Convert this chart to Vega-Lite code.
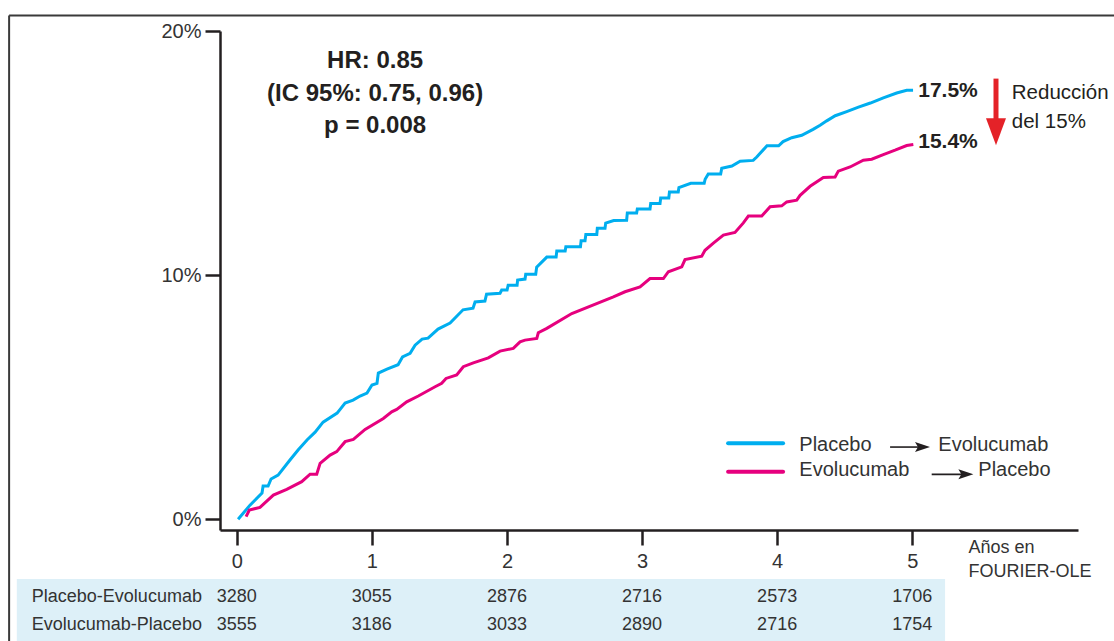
{
  "$schema": "https://vega.github.io/schema/vega-lite/v6.json",
  "width": 858,
  "height": 499,
  "autosize": {"type": "none"},
  "padding": {"left": 220, "top": 31, "right": 36, "bottom": 111},
  "background": "white",
  "config": {
    "view": {"stroke": null},
    "font": "Liberation Sans",
    "axis": {
      "grid": false,
      "domainColor": "#231f20",
      "domainWidth": 2.5,
      "tickColor": "#231f20",
      "tickWidth": 2.5,
      "tickSize": 15,
      "labelFont": "Liberation Sans",
      "labelFontSize": 20,
      "labelColor": "#333333"
    }
  },
  "datasets": {
    "km": [
      {"series": "Placebo-Evolucumab", "t": 0.01, "pct": 0.0},
      {"series": "Placebo-Evolucumab", "t": 0.098, "pct": 0.58},
      {"series": "Placebo-Evolucumab", "t": 0.187, "pct": 1.08},
      {"series": "Placebo-Evolucumab", "t": 0.195, "pct": 1.36},
      {"series": "Placebo-Evolucumab", "t": 0.232, "pct": 1.36},
      {"series": "Placebo-Evolucumab", "t": 0.254, "pct": 1.65},
      {"series": "Placebo-Evolucumab", "t": 0.306, "pct": 1.81},
      {"series": "Placebo-Evolucumab", "t": 0.394, "pct": 2.43},
      {"series": "Placebo-Evolucumab", "t": 0.454, "pct": 2.84},
      {"series": "Placebo-Evolucumab", "t": 0.52, "pct": 3.25},
      {"series": "Placebo-Evolucumab", "t": 0.58, "pct": 3.57},
      {"series": "Placebo-Evolucumab", "t": 0.639, "pct": 3.98},
      {"series": "Placebo-Evolucumab", "t": 0.743, "pct": 4.35},
      {"series": "Placebo-Evolucumab", "t": 0.802, "pct": 4.76},
      {"series": "Placebo-Evolucumab", "t": 0.861, "pct": 4.88},
      {"series": "Placebo-Evolucumab", "t": 0.913, "pct": 5.05},
      {"series": "Placebo-Evolucumab", "t": 0.964, "pct": 5.17},
      {"series": "Placebo-Evolucumab", "t": 1.001, "pct": 5.5},
      {"series": "Placebo-Evolucumab", "t": 1.038, "pct": 5.57},
      {"series": "Placebo-Evolucumab", "t": 1.048, "pct": 5.99},
      {"series": "Placebo-Evolucumab", "t": 1.112, "pct": 6.15},
      {"series": "Placebo-Evolucumab", "t": 1.194, "pct": 6.33},
      {"series": "Placebo-Evolucumab", "t": 1.227, "pct": 6.65},
      {"series": "Placebo-Evolucumab", "t": 1.283, "pct": 6.8},
      {"series": "Placebo-Evolucumab", "t": 1.32, "pct": 7.13},
      {"series": "Placebo-Evolucumab", "t": 1.372, "pct": 7.38},
      {"series": "Placebo-Evolucumab", "t": 1.416, "pct": 7.42},
      {"series": "Placebo-Evolucumab", "t": 1.49, "pct": 7.79},
      {"series": "Placebo-Evolucumab", "t": 1.579, "pct": 8.04},
      {"series": "Placebo-Evolucumab", "t": 1.675, "pct": 8.58},
      {"series": "Placebo-Evolucumab", "t": 1.749, "pct": 8.65},
      {"series": "Placebo-Evolucumab", "t": 1.764, "pct": 8.9},
      {"series": "Placebo-Evolucumab", "t": 1.837, "pct": 8.94},
      {"series": "Placebo-Evolucumab", "t": 1.849, "pct": 9.22},
      {"series": "Placebo-Evolucumab", "t": 1.949, "pct": 9.26},
      {"series": "Placebo-Evolucumab", "t": 1.961, "pct": 9.39},
      {"series": "Placebo-Evolucumab", "t": 2.001, "pct": 9.39},
      {"series": "Placebo-Evolucumab", "t": 2.009, "pct": 9.59},
      {"series": "Placebo-Evolucumab", "t": 2.075, "pct": 9.59},
      {"series": "Placebo-Evolucumab", "t": 2.079, "pct": 9.8},
      {"series": "Placebo-Evolucumab", "t": 2.134, "pct": 9.84},
      {"series": "Placebo-Evolucumab", "t": 2.139, "pct": 10.04},
      {"series": "Placebo-Evolucumab", "t": 2.213, "pct": 10.04},
      {"series": "Placebo-Evolucumab", "t": 2.22, "pct": 10.33},
      {"series": "Placebo-Evolucumab", "t": 2.295, "pct": 10.74},
      {"series": "Placebo-Evolucumab", "t": 2.364, "pct": 10.74},
      {"series": "Placebo-Evolucumab", "t": 2.369, "pct": 10.99},
      {"series": "Placebo-Evolucumab", "t": 2.431, "pct": 10.99},
      {"series": "Placebo-Evolucumab", "t": 2.436, "pct": 11.16},
      {"series": "Placebo-Evolucumab", "t": 2.544, "pct": 11.16},
      {"series": "Placebo-Evolucumab", "t": 2.549, "pct": 11.41},
      {"series": "Placebo-Evolucumab", "t": 2.578, "pct": 11.41},
      {"series": "Placebo-Evolucumab", "t": 2.584, "pct": 11.67},
      {"series": "Placebo-Evolucumab", "t": 2.665, "pct": 11.67},
      {"series": "Placebo-Evolucumab", "t": 2.669, "pct": 11.92},
      {"series": "Placebo-Evolucumab", "t": 2.726, "pct": 11.92},
      {"series": "Placebo-Evolucumab", "t": 2.731, "pct": 12.13},
      {"series": "Placebo-Evolucumab", "t": 2.79, "pct": 12.24},
      {"series": "Placebo-Evolucumab", "t": 2.886, "pct": 12.25},
      {"series": "Placebo-Evolucumab", "t": 2.891, "pct": 12.55},
      {"series": "Placebo-Evolucumab", "t": 2.96, "pct": 12.55},
      {"series": "Placebo-Evolucumab", "t": 2.965, "pct": 12.71},
      {"series": "Placebo-Evolucumab", "t": 3.059, "pct": 12.71},
      {"series": "Placebo-Evolucumab", "t": 3.064, "pct": 12.93},
      {"series": "Placebo-Evolucumab", "t": 3.133, "pct": 12.93},
      {"series": "Placebo-Evolucumab", "t": 3.138, "pct": 13.16},
      {"series": "Placebo-Evolucumab", "t": 3.198, "pct": 13.16},
      {"series": "Placebo-Evolucumab", "t": 3.203, "pct": 13.41},
      {"series": "Placebo-Evolucumab", "t": 3.268, "pct": 13.41},
      {"series": "Placebo-Evolucumab", "t": 3.273, "pct": 13.59},
      {"series": "Placebo-Evolucumab", "t": 3.361, "pct": 13.76},
      {"series": "Placebo-Evolucumab", "t": 3.46, "pct": 13.76},
      {"series": "Placebo-Evolucumab", "t": 3.467, "pct": 13.93},
      {"series": "Placebo-Evolucumab", "t": 3.49, "pct": 14.14},
      {"series": "Placebo-Evolucumab", "t": 3.582, "pct": 14.14},
      {"series": "Placebo-Evolucumab", "t": 3.59, "pct": 14.38},
      {"series": "Placebo-Evolucumab", "t": 3.665, "pct": 14.47},
      {"series": "Placebo-Evolucumab", "t": 3.726, "pct": 14.67},
      {"series": "Placebo-Evolucumab", "t": 3.823, "pct": 14.7},
      {"series": "Placebo-Evolucumab", "t": 3.849, "pct": 14.84},
      {"series": "Placebo-Evolucumab", "t": 3.925, "pct": 15.3},
      {"series": "Placebo-Evolucumab", "t": 4.011, "pct": 15.3},
      {"series": "Placebo-Evolucumab", "t": 4.044, "pct": 15.47},
      {"series": "Placebo-Evolucumab", "t": 4.108, "pct": 15.63},
      {"series": "Placebo-Evolucumab", "t": 4.182, "pct": 15.73},
      {"series": "Placebo-Evolucumab", "t": 4.266, "pct": 15.97},
      {"series": "Placebo-Evolucumab", "t": 4.318, "pct": 16.14},
      {"series": "Placebo-Evolucumab", "t": 4.367, "pct": 16.32},
      {"series": "Placebo-Evolucumab", "t": 4.43, "pct": 16.53},
      {"series": "Placebo-Evolucumab", "t": 4.515, "pct": 16.7},
      {"series": "Placebo-Evolucumab", "t": 4.602, "pct": 16.88},
      {"series": "Placebo-Evolucumab", "t": 4.69, "pct": 17.05},
      {"series": "Placebo-Evolucumab", "t": 4.786, "pct": 17.26},
      {"series": "Placebo-Evolucumab", "t": 4.885, "pct": 17.46},
      {"series": "Placebo-Evolucumab", "t": 4.959, "pct": 17.57},
      {"series": "Placebo-Evolucumab", "t": 5.006, "pct": 17.57},
      {"series": "Evolucumab-Placebo", "t": 0.069, "pct": 0.11},
      {"series": "Evolucumab-Placebo", "t": 0.093, "pct": 0.38},
      {"series": "Evolucumab-Placebo", "t": 0.172, "pct": 0.49},
      {"series": "Evolucumab-Placebo", "t": 0.271, "pct": 0.99},
      {"series": "Evolucumab-Placebo", "t": 0.37, "pct": 1.23},
      {"series": "Evolucumab-Placebo", "t": 0.481, "pct": 1.54},
      {"series": "Evolucumab-Placebo", "t": 0.543, "pct": 1.85},
      {"series": "Evolucumab-Placebo", "t": 0.592, "pct": 1.85},
      {"series": "Evolucumab-Placebo", "t": 0.617, "pct": 2.29},
      {"series": "Evolucumab-Placebo", "t": 0.691, "pct": 2.63},
      {"series": "Evolucumab-Placebo", "t": 0.74, "pct": 2.77},
      {"series": "Evolucumab-Placebo", "t": 0.802, "pct": 3.18},
      {"series": "Evolucumab-Placebo", "t": 0.863, "pct": 3.27},
      {"series": "Evolucumab-Placebo", "t": 0.95, "pct": 3.68},
      {"series": "Evolucumab-Placebo", "t": 1.085, "pct": 4.13},
      {"series": "Evolucumab-Placebo", "t": 1.147, "pct": 4.4},
      {"series": "Evolucumab-Placebo", "t": 1.184, "pct": 4.5},
      {"series": "Evolucumab-Placebo", "t": 1.258, "pct": 4.81},
      {"series": "Evolucumab-Placebo", "t": 1.344, "pct": 5.05},
      {"series": "Evolucumab-Placebo", "t": 1.468, "pct": 5.43},
      {"series": "Evolucumab-Placebo", "t": 1.517, "pct": 5.57},
      {"series": "Evolucumab-Placebo", "t": 1.549, "pct": 5.77},
      {"series": "Evolucumab-Placebo", "t": 1.628, "pct": 5.91},
      {"series": "Evolucumab-Placebo", "t": 1.677, "pct": 6.25},
      {"series": "Evolucumab-Placebo", "t": 1.751, "pct": 6.41},
      {"series": "Evolucumab-Placebo", "t": 1.862, "pct": 6.61},
      {"series": "Evolucumab-Placebo", "t": 1.949, "pct": 6.89},
      {"series": "Evolucumab-Placebo", "t": 2.047, "pct": 7.0},
      {"series": "Evolucumab-Placebo", "t": 2.097, "pct": 7.27},
      {"series": "Evolucumab-Placebo", "t": 2.134, "pct": 7.34},
      {"series": "Evolucumab-Placebo", "t": 2.221, "pct": 7.41},
      {"series": "Evolucumab-Placebo", "t": 2.232, "pct": 7.64},
      {"series": "Evolucumab-Placebo", "t": 2.295, "pct": 7.82},
      {"series": "Evolucumab-Placebo", "t": 2.48, "pct": 8.43},
      {"series": "Evolucumab-Placebo", "t": 2.788, "pct": 9.11},
      {"series": "Evolucumab-Placebo", "t": 2.874, "pct": 9.32},
      {"series": "Evolucumab-Placebo", "t": 2.985, "pct": 9.52},
      {"series": "Evolucumab-Placebo", "t": 3.059, "pct": 9.86},
      {"series": "Evolucumab-Placebo", "t": 3.158, "pct": 9.86},
      {"series": "Evolucumab-Placebo", "t": 3.195, "pct": 10.14},
      {"series": "Evolucumab-Placebo", "t": 3.294, "pct": 10.34},
      {"series": "Evolucumab-Placebo", "t": 3.318, "pct": 10.64},
      {"series": "Evolucumab-Placebo", "t": 3.442, "pct": 10.78},
      {"series": "Evolucumab-Placebo", "t": 3.466, "pct": 11.02},
      {"series": "Evolucumab-Placebo", "t": 3.528, "pct": 11.31},
      {"series": "Evolucumab-Placebo", "t": 3.602, "pct": 11.64},
      {"series": "Evolucumab-Placebo", "t": 3.688, "pct": 11.75},
      {"series": "Evolucumab-Placebo", "t": 3.75, "pct": 12.14},
      {"series": "Evolucumab-Placebo", "t": 3.787, "pct": 12.42},
      {"series": "Evolucumab-Placebo", "t": 3.886, "pct": 12.42},
      {"series": "Evolucumab-Placebo", "t": 3.948, "pct": 12.8},
      {"series": "Evolucumab-Placebo", "t": 4.034, "pct": 12.84},
      {"series": "Evolucumab-Placebo", "t": 4.071, "pct": 13.0},
      {"series": "Evolucumab-Placebo", "t": 4.145, "pct": 13.07},
      {"series": "Evolucumab-Placebo", "t": 4.17, "pct": 13.27},
      {"series": "Evolucumab-Placebo", "t": 4.244, "pct": 13.64},
      {"series": "Evolucumab-Placebo", "t": 4.342, "pct": 14.0},
      {"series": "Evolucumab-Placebo", "t": 4.429, "pct": 14.02},
      {"series": "Evolucumab-Placebo", "t": 4.453, "pct": 14.26},
      {"series": "Evolucumab-Placebo", "t": 4.54, "pct": 14.43},
      {"series": "Evolucumab-Placebo", "t": 4.638, "pct": 14.71},
      {"series": "Evolucumab-Placebo", "t": 4.7, "pct": 14.75},
      {"series": "Evolucumab-Placebo", "t": 4.786, "pct": 14.94},
      {"series": "Evolucumab-Placebo", "t": 4.873, "pct": 15.12},
      {"series": "Evolucumab-Placebo", "t": 4.959, "pct": 15.31},
      {"series": "Evolucumab-Placebo", "t": 5.008, "pct": 15.35}
    ],
    "risk": [
      {"group": "Placebo-Evolucumab", "year": 0, "n": 3280},
      {"group": "Placebo-Evolucumab", "year": 1, "n": 3055},
      {"group": "Placebo-Evolucumab", "year": 2, "n": 2876},
      {"group": "Placebo-Evolucumab", "year": 3, "n": 2716},
      {"group": "Placebo-Evolucumab", "year": 4, "n": 2573},
      {"group": "Placebo-Evolucumab", "year": 5, "n": 1706},
      {"group": "Evolucumab-Placebo", "year": 0, "n": 3555},
      {"group": "Evolucumab-Placebo", "year": 1, "n": 3186},
      {"group": "Evolucumab-Placebo", "year": 2, "n": 3033},
      {"group": "Evolucumab-Placebo", "year": 3, "n": 2890},
      {"group": "Evolucumab-Placebo", "year": 4, "n": 2716},
      {"group": "Evolucumab-Placebo", "year": 5, "n": 1754}
    ],
    "ends": [
      {"series": "Placebo-Evolucumab", "t": 5, "pct": 17.5, "label": "17.5%"},
      {"series": "Evolucumab-Placebo", "t": 5, "pct": 15.4, "label": "15.4%"}
    ],
    "one": [{}]
  },
  "layer": [
    {
      "data": {"name": "km"},
      "mark": {"type": "line", "strokeWidth": 3, "clip": false},
      "encoding": {
        "x": {
          "field": "t", "type": "quantitative",
          "scale": {"domain": [-0.124, 6.227], "nice": false, "zero": false},
          "axis": {
            "values": [0, 1, 2, 3, 4, 5],
            "format": "d",
            "labelPadding": 6,
            "title": ["Años en", "FOURIER-OLE"],
            "titleFont": "Liberation Sans",
            "titleFontSize": 18,
            "titleFontWeight": "normal",
            "titleColor": "#333333",
            "titleAlign": "left",
            "titleBaseline": "top",
            "titleLineHeight": 24,
            "titleX": 748,
            "titleY": 8
          }
        },
        "y": {
          "field": "pct", "type": "quantitative",
          "scale": {"domain": [-0.438, 20], "nice": false, "zero": false},
          "axis": {
            "values": [0, 10, 20],
            "labelExpr": "datum.value + '%'",
            "labelPadding": 4,
            "title": null
          }
        },
        "color": {
          "field": "series", "type": "nominal",
          "scale": {"domain": ["Placebo-Evolucumab", "Evolucumab-Placebo"], "range": ["#00aeef", "#e6007e"]},
          "legend": null
        }
      }
    },
    {
      "data": {"name": "one"},
      "mark": {"type": "rect", "color": "#ddf0f8", "clip": false},
      "encoding": {
        "x": {"datum": -1.628}, "x2": {"datum": 5.243},
        "y": {"datum": -2.444}, "y2": {"datum": -5.2}
      }
    },
    {
      "data": {"name": "one"},
      "mark": {"type": "rule", "color": "#3a3a3a", "strokeWidth": 2, "clip": false},
      "encoding": {
        "x": {"datum": -1.685}, "x2": {"datum": 6.7},
        "y": {"datum": 20.63}
      }
    },
    {
      "data": {"name": "one"},
      "mark": {"type": "rule", "color": "#3a3a3a", "strokeWidth": 2, "clip": false},
      "encoding": {
        "x": {"datum": -1.685},
        "y": {"datum": 20.63}, "y2": {"datum": -5.2}
      }
    },
    {
      "data": {"name": "one"},
      "mark": {"type": "text", "text": ["HR: 0.85", "(IC 95%: 0.75, 0.96)", "p = 0.008"], "font": "Liberation Sans", "fontWeight": "bold", "fontSize": 24, "lineHeight": 32.5, "align": "center", "baseline": "middle", "color": "#231f20", "clip": false},
      "encoding": {"x": {"datum": 1.024}, "y": {"datum": 18.77}}
    },
    {
      "data": {"name": "ends"},
      "mark": {"type": "text", "font": "Liberation Sans", "fontWeight": "bold", "fontSize": 21, "align": "left", "baseline": "middle", "dx": 6, "dy": -1, "color": "#231f20", "clip": false},
      "encoding": {
        "x": {"field": "t", "type": "quantitative"},
        "y": {"field": "pct", "type": "quantitative"},
        "text": {"field": "label"}
      }
    },
    {
      "data": {"name": "one"},
      "mark": {"type": "rule", "color": "#e42228", "strokeWidth": 5, "clip": false},
      "encoding": {"x": {"datum": 5.62}, "y": {"datum": 18.05}, "y2": {"datum": 16.1}}
    },
    {
      "data": {"name": "one"},
      "mark": {"type": "point", "shape": "M-1,-1.35L1,-1.35L0,1.35Z", "size": 400, "filled": true, "color": "#e42228", "opacity": 1, "strokeWidth": 0, "clip": false},
      "encoding": {"x": {"datum": 5.62}, "y": {"datum": 15.87}}
    },
    {
      "data": {"name": "one"},
      "mark": {"type": "text", "text": ["Reducción", "del 15%"], "fontSize": 20.5, "lineHeight": 29, "align": "left", "baseline": "middle", "color": "#231f20", "clip": false},
      "encoding": {"x": {"datum": 5.737}, "y": {"datum": 17.47}}
    },
    {
      "data": {"name": "one"},
      "mark": {"type": "rule", "color": "#00aeef", "strokeWidth": 4, "strokeCap": "round", "clip": false},
      "encoding": {"x": {"datum": 3.637}, "x2": {"datum": 4.044}, "y": {"datum": 3.111}}
    },
    {
      "data": {"name": "one"},
      "mark": {"type": "rule", "color": "#e6007e", "strokeWidth": 4, "strokeCap": "round", "clip": false},
      "encoding": {"x": {"datum": 3.637}, "x2": {"datum": 4.044}, "y": {"datum": 1.948}}
    },
    {
      "data": {"name": "one"},
      "mark": {"type": "text", "text": "Placebo", "fontSize": 20, "align": "left", "baseline": "middle", "color": "#333333", "clip": false},
      "encoding": {"x": {"datum": 4.164}, "y": {"datum": 3.062}}
    },
    {
      "data": {"name": "one"},
      "mark": {"type": "text", "text": "Evolucumab", "fontSize": 20, "align": "left", "baseline": "middle", "color": "#333333", "clip": false},
      "encoding": {"x": {"datum": 5.193}, "y": {"datum": 3.062}}
    },
    {
      "data": {"name": "one"},
      "mark": {"type": "text", "text": "Evolucumab", "fontSize": 20, "align": "left", "baseline": "middle", "color": "#333333", "clip": false},
      "encoding": {"x": {"datum": 4.164}, "y": {"datum": 2.0}}
    },
    {
      "data": {"name": "one"},
      "mark": {"type": "text", "text": "Placebo", "fontSize": 20, "align": "left", "baseline": "middle", "color": "#333333", "clip": false},
      "encoding": {"x": {"datum": 5.489}, "y": {"datum": 2.0}}
    },
    {
      "data": {"name": "one"},
      "mark": {"type": "rule", "color": "#231f20", "strokeWidth": 1.6, "clip": false},
      "encoding": {"x": {"datum": 4.836}, "x2": {"datum": 5.06}, "y": {"datum": 2.959}}
    },
    {
      "data": {"name": "one"},
      "mark": {"type": "point", "shape": "M-1,-0.67L1,0L-1,0.67L-0.6,0Z", "size": 225, "filled": true, "color": "#231f20", "opacity": 1, "strokeWidth": 0, "clip": false},
      "encoding": {"x": {"datum": 5.076}, "y": {"datum": 2.959}}
    },
    {
      "data": {"name": "one"},
      "mark": {"type": "rule", "color": "#231f20", "strokeWidth": 1.6, "clip": false},
      "encoding": {"x": {"datum": 5.144}, "x2": {"datum": 5.38}, "y": {"datum": 1.842}}
    },
    {
      "data": {"name": "one"},
      "mark": {"type": "point", "shape": "M-1,-0.67L1,0L-1,0.67L-0.6,0Z", "size": 225, "filled": true, "color": "#231f20", "opacity": 1, "strokeWidth": 0, "clip": false},
      "encoding": {"x": {"datum": 5.397}, "y": {"datum": 1.842}}
    },
    {
      "data": {"name": "one"},
      "mark": {"type": "text", "text": "Placebo-Evolucumab", "fontSize": 18, "align": "left", "baseline": "middle", "color": "#333333", "clip": false},
      "encoding": {"x": {"datum": -1.517}, "y": {"datum": -3.2}}
    },
    {
      "data": {"name": "one"},
      "mark": {"type": "text", "text": "Evolucumab-Placebo", "fontSize": 18, "align": "left", "baseline": "middle", "color": "#333333", "clip": false},
      "encoding": {"x": {"datum": -1.517}, "y": {"datum": -4.31}}
    },
    {
      "data": {"name": "risk"},
      "transform": [{"filter": "datum.group === 'Placebo-Evolucumab'"}],
      "mark": {"type": "text", "fontSize": 18, "align": "center", "baseline": "middle", "color": "#333333", "clip": false},
      "encoding": {
        "x": {"field": "year", "type": "quantitative"},
        "y": {"datum": -3.2},
        "text": {"field": "n", "type": "quantitative", "format": "d"}
      }
    },
    {
      "data": {"name": "risk"},
      "transform": [{"filter": "datum.group === 'Evolucumab-Placebo'"}],
      "mark": {"type": "text", "fontSize": 18, "align": "center", "baseline": "middle", "color": "#333333", "clip": false},
      "encoding": {
        "x": {"field": "year", "type": "quantitative"},
        "y": {"datum": -4.31},
        "text": {"field": "n", "type": "quantitative", "format": "d"}
      }
    }
  ]
}
